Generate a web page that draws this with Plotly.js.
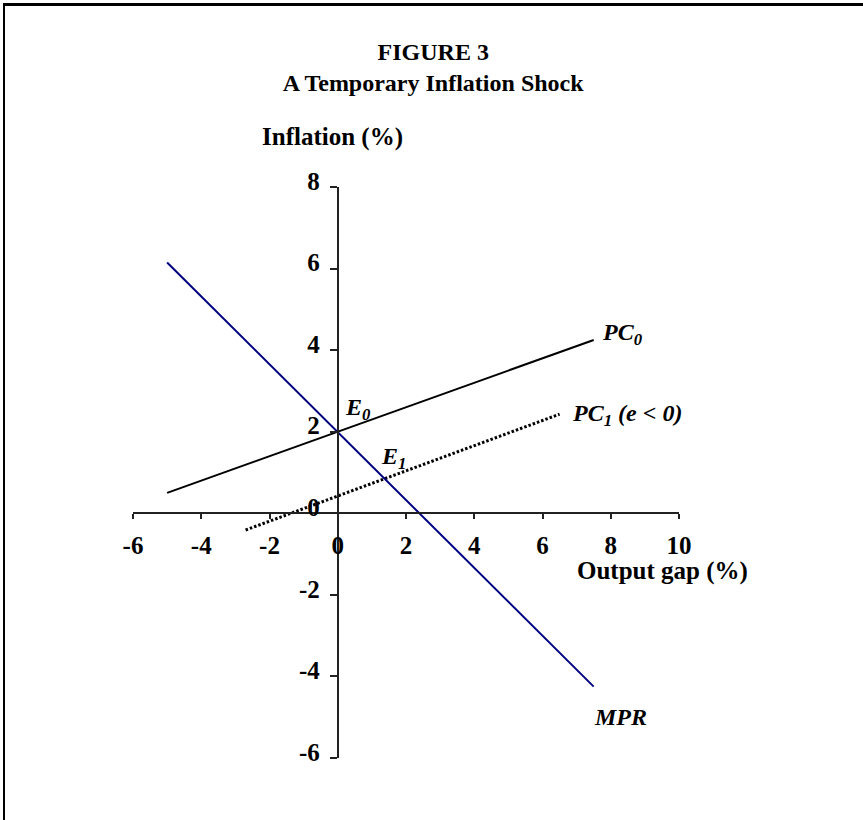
<!DOCTYPE html>
<html>
<head>
<meta charset="utf-8">
<script src="https://cdn.plot.ly/plotly-3.0.1.min.js"></script>
<style>
  body { margin: 0; background: #fff; }
  #chart { position: absolute; left: 0; top: 0; width: 863px; height: 820px; }
  #frame { position: absolute; left: 3px; top: 3px; width: 860px; height: 817px;
           border-left: 2px solid #000; border-top: 3px solid #000; pointer-events: none; }
</style>
</head>
<body>
<div id="chart"></div>
<div id="frame"></div>
<script>
// Phillips curves and monetary policy rule (output gap %, inflation %)
const pc0X = [-5, 7.5];
const pc0Y = [0.5, 4.25];
const pc1X = [-2.7, 6.5];
const pc1Y = [-0.41, 2.43];
const mprX = [-5, 7.5];
const mprY = [6.15, -4.25];

const xTicks = [-6, -4, -2, 0, 2, 4, 6, 8, 10];
const yTicks = [-6, -4, -2, 0, 2, 4, 6, 8];

const serif = 'Liberation Serif, Times New Roman, serif';

const data = [
  { x: pc0X, y: pc0Y, mode: 'lines', line: { color: '#000', width: 2 } },
  { x: pc1X, y: pc1Y, mode: 'lines', line: { color: '#000', width: 3, dash: '2.5px,2px' } },
  { x: mprX, y: mprY, mode: 'lines', line: { color: '#000080', width: 2 } }
];

const axisBase = {
  showgrid: false,
  zeroline: false,
  showline: true,
  linecolor: '#222',
  linewidth: 2,
  ticks: 'outside',
  tickcolor: '#222',
  tickwidth: 2,
  tickfont: { family: serif, size: 25, color: '#000', weight: 'bold' },
  anchor: 'free',
  fixedrange: true
};

const layout = {
  width: 863,
  height: 820,
  margin: { l: 133, r: 184, t: 187, b: 62 },
  paper_bgcolor: '#fff',
  plot_bgcolor: '#fff',
  showlegend: false,
  title: {
    text: 'FIGURE 3<br>A Temporary Inflation Shock',
    font: { family: serif, size: 24, color: '#000', weight: 'bold' },
    xref: 'container', x: 0.502,
    yref: 'container', y: 1 - 60 / 820, yanchor: 'top'
  },
  xaxis: Object.assign({}, axisBase, {
    range: [-6, 10],
    tickvals: xTicks,
    ticktext: xTicks.map(String),
    ticklen: 5,
    ticklabelstandoff: 5,
    position: 6 / 14,
    side: 'bottom'
  }),
  yaxis: Object.assign({}, axisBase, {
    range: [-6, 8],
    tickvals: yTicks,
    ticktext: yTicks.map(String),
    ticklen: 7,
    ticklabelstandoff: 5,
    ticklabelshift: -6,
    position: 6 / 16,
    side: 'left'
  }),
  annotations: [
    { text: '<b>Inflation (%)</b>', xref: 'paper', yref: 'paper', x: 0.3654, y: 1.0876,
      xanchor: 'center', yanchor: 'middle',
      showarrow: false, font: { family: serif, size: 25, color: '#000' } },
    { text: '<b>Output gap (%)</b>', xref: 'paper', yref: 'paper', x: 0.9689, y: 0.3275,
      xanchor: 'center', yanchor: 'middle',
      showarrow: false, font: { family: serif, size: 25, color: '#000' } },
    { text: '<b><i>E<sub>0</sub></i></b>', x: 0.15, y: 2.55, xanchor: 'left', yanchor: 'middle',
      showarrow: false, font: { family: serif, size: 24, color: '#000' } },
    { text: '<b><i>E<sub>1</sub></i></b>', x: 1.2, y: 1.35, xanchor: 'left', yanchor: 'middle',
      showarrow: false, font: { family: serif, size: 24, color: '#000' } },
    { text: '<b><i>PC<sub>0</sub></i></b>', x: 7.68, y: 4.4, xanchor: 'left', yanchor: 'middle',
      showarrow: false, font: { family: serif, size: 24, color: '#000' } },
    { text: '<b><i>PC<sub>1</sub> (e &lt; 0)</i></b>', x: 6.8, y: 2.4, xanchor: 'left', yanchor: 'middle',
      showarrow: false, font: { family: serif, size: 24, color: '#000' } },
    { text: '<b><i>MPR</i></b>', x: 7.45, y: -4.99, xanchor: 'left', yanchor: 'middle',
      showarrow: false, font: { family: serif, size: 24, color: '#000' } }
  ]
};

Plotly.newPlot('chart', data, layout, { staticPlot: true, displayModeBar: false });
</script>
</body>
</html>
